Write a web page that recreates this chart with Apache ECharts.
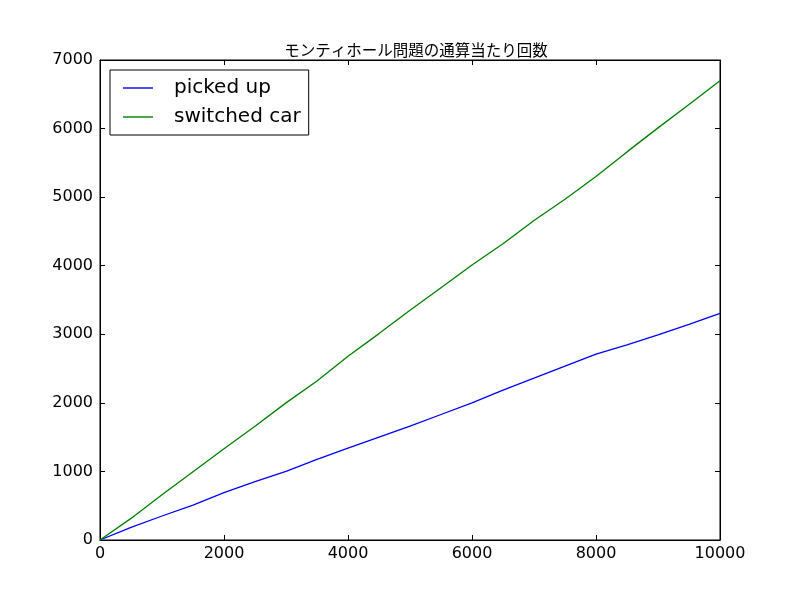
<!DOCTYPE html>
<html>
<head>
<meta charset="utf-8">
<script src="https://cdn.jsdelivr.net/npm/echarts@6/dist/echarts.min.js"></script>
<style>html,body{margin:0;padding:0;background:#fff}#c{width:800px;height:600px}</style>
</head>
<body>
<div id="c"></div>
<script>
var titleText = 'モンティホール問題の通算当たり回数';
var trials = [0, 500, 1000, 1500, 2000, 2500, 3000, 3500, 4000, 4500, 5000, 5500, 6000, 6500, 7000, 7500, 8000, 8500, 9000, 9500, 10000];
var pickedUp = [0, 185, 350, 510, 690, 850, 1000, 1175, 1340, 1500, 1660, 1830, 2000, 2185, 2360, 2537, 2712, 2844, 2990, 3145, 3306];
var switchedCar = [0, 315, 660, 995, 1330, 1660, 2000, 2320, 2680, 3010, 3350, 3680, 4010, 4320, 4660, 4970, 5300, 5660, 6010, 6350, 6698];
var seriesNames = ['picked up', 'switched car'];
var seriesColors = ['#0000ff', '#008000'];

function pairs(xs, ys) { return xs.map(function (x, i) { return [x, ys[i]]; }); }
function plain(v) { return String(v); }

var font = 'DejaVu Sans';
var chart = echarts.init(document.getElementById('c'), null, { renderer: 'canvas' });
var axisCommon = {
  axisLine: { show: true, onZero: false, lineStyle: { color: '#000', width: 1 } },
  axisTick: { show: true, inside: true, length: 5, lineStyle: { color: '#000', width: 1 } },
  splitLine: { show: false }
};
chart.setOption({
  animation: false,
  backgroundColor: '#fff',
  title: {
    text: titleText, left: 411, top: 37, textAlign: 'center',
    textStyle: { fontFamily: 'Noto Sans CJK JP', fontSize: 15.5, fontWeight: 'normal', color: '#000' }
  },
  grid: { left: 100, right: 80, top: 60, bottom: 60, show: true, borderColor: '#000', borderWidth: 1 },
  legend: {
    orient: 'vertical', left: 110, top: 70,
    data: seriesNames,
    icon: 'rect',
    itemWidth: 30, itemHeight: 1.4, itemGap: 9,
    padding: [8, 8, 8, 13],
    borderColor: '#000', borderWidth: 1, borderRadius: 0, backgroundColor: '#fff',
    textStyle: { fontFamily: font, fontSize: 20, color: '#000', padding: [0, 0, 0, 16] }
  },
  xAxis: [
    Object.assign({ type: 'value', position: 'bottom', min: 0, max: 10000, interval: 2000,
      axisLabel: { fontFamily: font, fontSize: 16, color: '#000', margin: 6, formatter: plain } }, axisCommon),
    Object.assign({ type: 'value', position: 'top', min: 0, max: 10000, interval: 2000,
      axisLabel: { show: false } }, axisCommon)
  ],
  yAxis: [
    Object.assign({ type: 'value', position: 'left', min: 0, max: 7000, interval: 1000,
      axisLabel: { fontFamily: font, fontSize: 16, color: '#000', margin: 7, formatter: plain } }, axisCommon),
    Object.assign({ type: 'value', position: 'right', min: 0, max: 7000, interval: 1000,
      axisLabel: { show: false } }, axisCommon)
  ],
  series: [
    { name: seriesNames[0], type: 'line', data: pairs(trials, pickedUp), symbol: 'none', showSymbol: false,
      lineStyle: { color: seriesColors[0], width: 1.3 }, itemStyle: { color: seriesColors[0] } },
    { name: seriesNames[1], type: 'line', data: pairs(trials, switchedCar), symbol: 'none', showSymbol: false,
      lineStyle: { color: seriesColors[1], width: 1.3 }, itemStyle: { color: seriesColors[1] } }
  ]
});
</script>
</body>
</html>
